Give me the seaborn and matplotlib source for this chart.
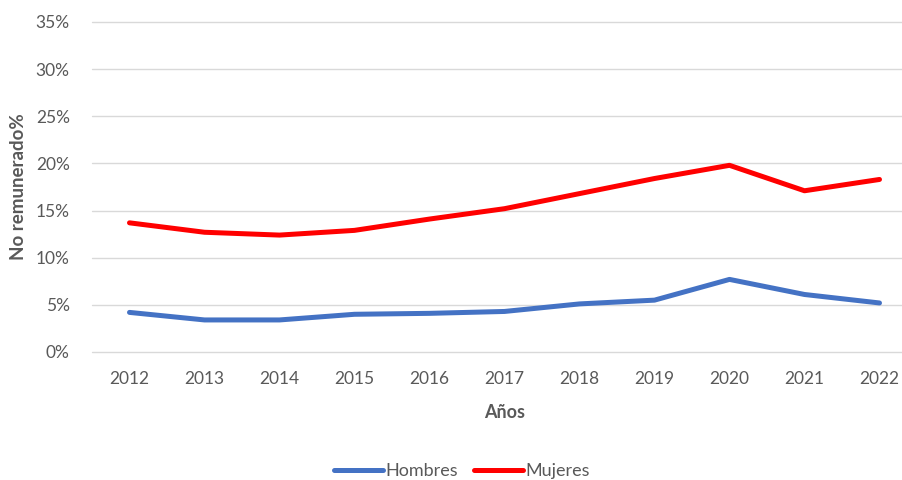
import matplotlib
matplotlib.use("Agg")
import matplotlib.pyplot as plt
import seaborn as sns
import pandas as pd
from matplotlib.ticker import PercentFormatter

years = [2012, 2013, 2014, 2015, 2016, 2017, 2018, 2019, 2020, 2021, 2022]
hombres = [4.2, 3.4, 3.4, 4.0, 4.1, 4.3, 5.1, 5.5, 7.7, 6.1, 5.2]
mujeres = [13.7, 12.7, 12.4, 12.9, 14.1, 15.2, 16.8, 18.4, 19.8, 17.1, 18.3]
series_names = ["Hombres", "Mujeres"]
colors = ["#4472C4", "#FF0000"]

df = pd.DataFrame({
    "Año": [str(y) for y in years] * 2,
    "valor": [v / 100 for v in hombres] + [v / 100 for v in mujeres],
    "Serie": [series_names[0]] * len(years) + [series_names[1]] * len(years),
})

sns.set_theme(style="white")
plt.rcParams["font.family"] = ["Lato", "DejaVu Sans"]

fig = plt.figure(figsize=(9.02, 4.8), dpi=100)
ax = fig.add_axes([92 / 902, (480 - 352) / 480, 825 / 902, 330 / 480])

sns.lineplot(data=df, x="Año", y="valor", hue="Serie", palette=colors,
             linewidth=3.6, ax=ax, sort=False)

ax.set_xlim(-0.5, len(years) - 0.5)
ax.set_ylim(0, 0.35)
ax.set_yticks([i * 0.05 for i in range(8)])
ax.yaxis.set_major_formatter(PercentFormatter(1.0, decimals=0))
ax.grid(axis="y", color="#D9D9D9", linewidth=1)
for gl in ax.get_ygridlines():
    gl.set_clip_on(False)
ax.set_axisbelow(True)
for s in ax.spines.values():
    s.set_visible(False)
ax.tick_params(axis="both", length=0, labelsize=12.5, colors="#595959")
ax.tick_params(axis="x", pad=14)
ax.tick_params(axis="y", pad=16)

ax.set_xlabel("Años", fontsize=13, fontweight="bold", color="#595959", labelpad=12)
ax.set_ylabel("No remunerado%", fontsize=13.5, fontweight="bold", color="#595959", labelpad=6)

handles, labels = ax.get_legend_handles_labels()
ax.legend(handles, labels, loc="center", bbox_to_anchor=(462 / 902, 9 / 480),
          bbox_transform=fig.transFigure, ncol=2, frameon=False,
          fontsize=13, handlelength=2.7, handletextpad=0.15, columnspacing=0.9,
          labelcolor="#595959")

fig.savefig("out.png", dpi=100)
